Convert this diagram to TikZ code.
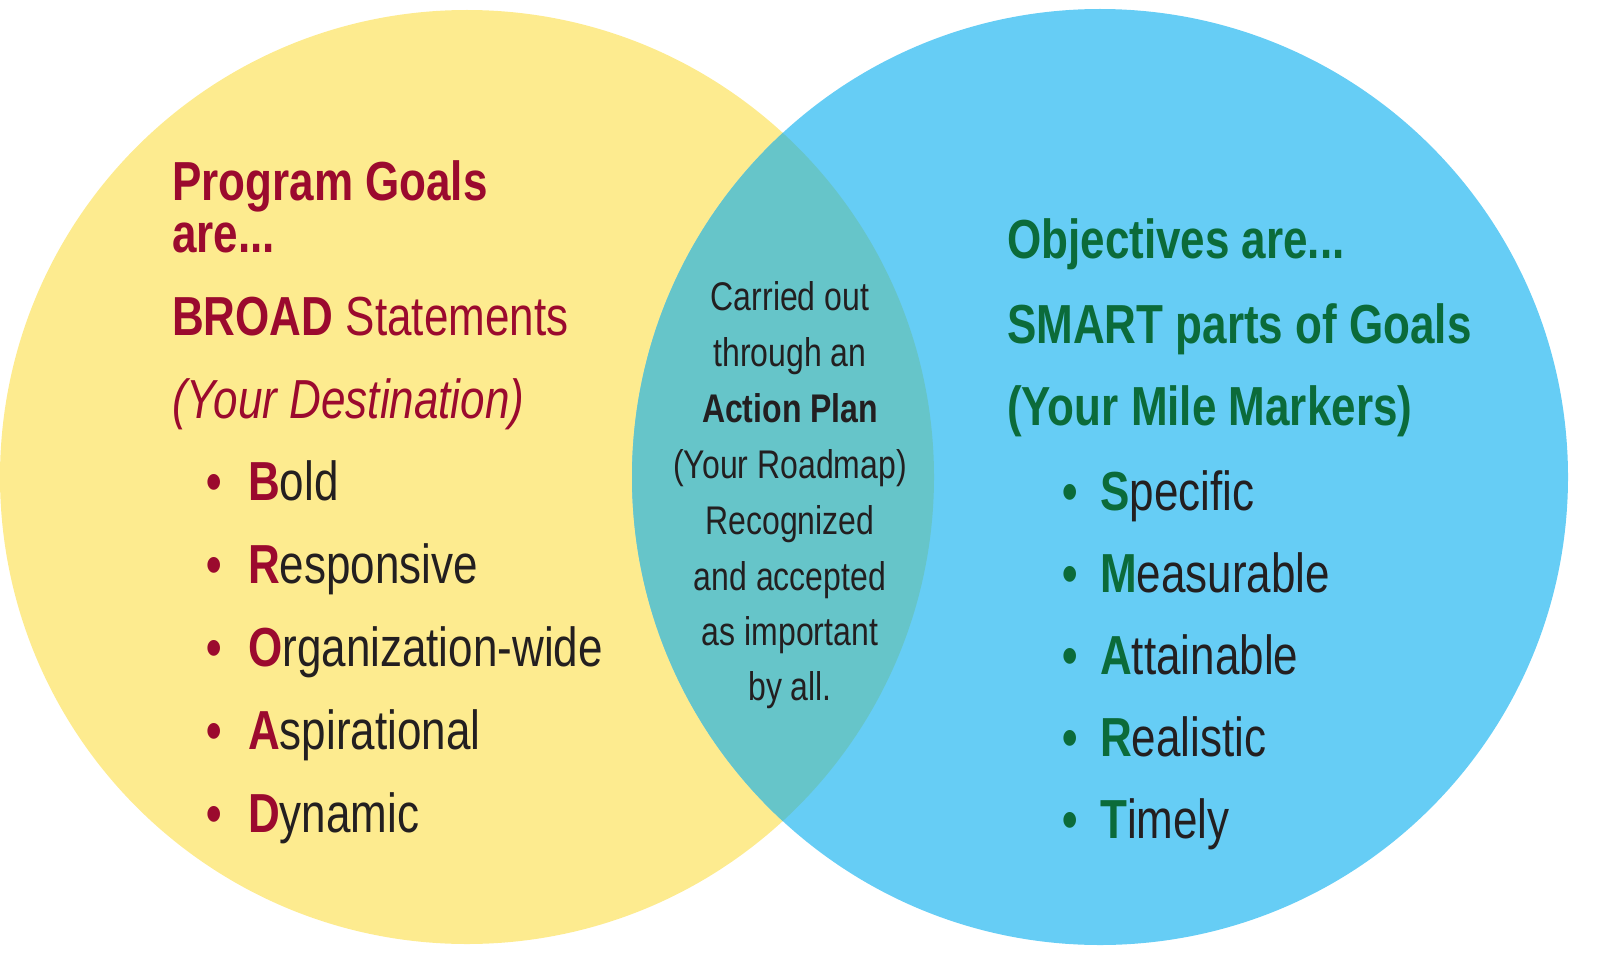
\documentclass[tikz,border=0pt]{standalone}
\usepackage{fontspec}
\setmainfont{Liberation Sans}[FakeStretch=0.8]
\definecolor{yel}{HTML}{FDEB8F}
\definecolor{blu}{HTML}{66CDF5}
\definecolor{mix}{HTML}{66C5C9}
\definecolor{dred}{HTML}{9B0A2E}
\definecolor{dgrn}{HTML}{0B6B3A}
\definecolor{ink}{HTML}{231F20}
\begin{document}
\begin{tikzpicture}[x=1pt,y=-1pt,
  big/.style={anchor=base west,inner sep=0pt,font=\fontsize{55}{60}\selectfont\bfseries},
  mid/.style={anchor=base,inner sep=0pt,font=\fontsize{40}{44}\selectfont,text=ink}]
\useasboundingbox (0,0) rectangle (1600,955);
\fill[yel] (467,477) circle (467);
\fill[blu] (1100,477) circle (468);
\begin{scope}
\clip (467,477) circle (467);
\fill[mix] (1100,477) circle (468);
\end{scope}
% left
\node[big,text=dred] (g1) at (172,200) {Program Goals};
\node[big,text=dred] (g2) at (172,252) {are...};
\node[big,text=dred] (g3) at (172,335) {BROAD \mdseries Statements};
\node[big,text=dred,font=\fontsize{55}{60}\selectfont\itshape] (g4) at (172,418) {(Your Destination)};
\foreach \w/\r [count=\i] in {B/old,R/esponsive,O/rganization-wide,A/spirational,D/ynamic}{
  \node[big,text=dred] (lb\i) at (206,500+83*\i-83) {•};
  \node[big,text=ink,font=\fontsize{55}{60}\selectfont] (lw\i) at (248,500+83*\i-83) {\textcolor{dred}{\bfseries\w}\r};
}
% right
\node[big,text=dgrn] (o1) at (1007,258) {Objectives are...};
\node[big,text=dgrn] (o2) at (1007,343) {SMART parts of Goals};
\node[big,text=dgrn] (o3) at (1007,425) {(Your Mile Markers)};
\foreach \w/\r [count=\i] in {S/pecific,M/easurable,A/ttainable,R/ealistic,T/imely}{
  \node[big,text=dgrn] (rb\i) at (1062,510+82*\i-82) {•};
  \node[big,text=ink,font=\fontsize{55}{60}\selectfont] (rw\i) at (1100,510+82*\i-82) {\textcolor{dgrn}{\bfseries\w}\r};
}
% middle
\node[mid] (m1) at (790,310) {Carried out};
\node[mid] (m2) at (790,366) {through an};
\node[mid,font=\fontsize{40}{44}\selectfont\bfseries] (m3) at (790,422) {Action Plan};
\node[mid] (m4) at (790,478) {(Your Roadmap)};
\node[mid] (m5) at (790,534) {Recognized};
\node[mid] (m6) at (790,590) {and accepted};
\node[mid] (m7) at (790,645) {as important};
\node[mid] (m8) at (790,700) {by all.};
\end{tikzpicture}
\end{document}
